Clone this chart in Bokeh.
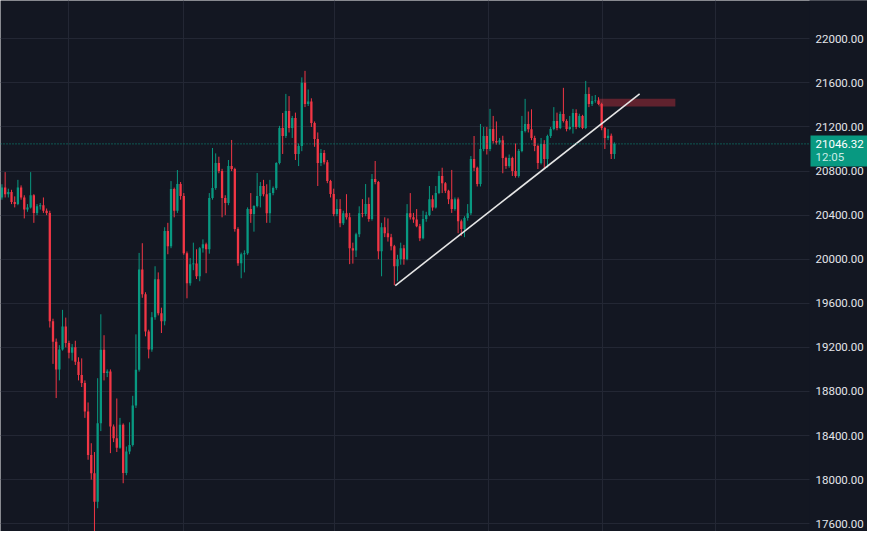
from bokeh.plotting import figure
from bokeh.models import (ColumnDataSource, FixedTicker, PrintfTickFormatter, Range1d)
from bokeh.embed import file_html
from bokeh.resources import INLINE

# ---- data ----
opens = [
    20560, 20650, 20590, 20610, 20520, 20500, 20650, 20560, 20450, 20470,
    20580, 20420, 20480, 20490, 20440, 20420, 19436, 19250, 19000, 19180,
    19390, 19240, 19150, 19200, 19070, 18950, 18876, 18618, 18224, 18058,
    17800, 18512, 19179, 18967, 18980, 18482, 18376, 18290, 18497, 18060,
    18255, 18315, 18673, 18997, 19906, 19682, 19345, 19180, 19473, 19818,
    19509, 19436, 20255, 20118, 20636, 20440, 20682, 20573, 20055, 19782,
    19955, 19960, 19845, 20100, 20136, 20090, 20555, 20645, 20873, 20800,
    20555, 20509, 20845, 20818, 20273, 19964, 20045, 20055, 20455, 20409,
    20482, 20573, 20664, 20590, 20418, 20600, 20645, 20873, 21191, 21118,
    21345, 21191, 21282, 20955, 21027, 21600, 21409, 21430, 21236, 21091,
    20873, 20964, 20880, 20709, 20591, 20409, 20455, 20327, 20418, 20380,
    20100, 20080, 20227, 20418, 20410, 20500, 20364, 20727, 20700, 20073,
    20290, 20236, 20200, 20118, 19936, 20000, 20100, 20000, 20418, 20380,
    20360, 20300, 20191, 20364, 20400, 20545, 20470, 20600, 20755, 20690,
    20620, 20545, 20455, 20545, 20345, 20273, 20373, 20418, 20909, 20830,
    20682, 21000, 21118, 21000, 21182, 21073, 21060, 21080, 20918, 20845,
    20918, 20800, 20755, 20982, 21164, 21227, 21180, 21100, 21027, 20873,
    21045, 20909, 21118, 21182, 21255, 21190, 21318, 21255, 21182, 21200,
    21327, 21200, 21300, 21191, 21500, 21409, 21436, 21440, 21409, 21191,
    21100, 21120, 20955,
]
closes = [
    20650, 20590, 20610, 20520, 20500, 20650, 20560, 20450, 20470, 20580,
    20420, 20480, 20490, 20440, 20420, 19436, 19250, 19000, 19180, 19390,
    19240, 19150, 19200, 19070, 18950, 18876, 18618, 18224, 18058, 17800,
    18512, 19179, 18967, 18980, 18482, 18376, 18290, 18497, 18060, 18255,
    18315, 18673, 18997, 19906, 19682, 19345, 19180, 19473, 19818, 19509,
    19436, 20255, 20118, 20636, 20440, 20682, 20573, 20055, 19782, 19955,
    19960, 19845, 20100, 20136, 20090, 20555, 20645, 20873, 20800, 20555,
    20509, 20845, 20818, 20273, 19964, 20045, 20055, 20455, 20409, 20482,
    20573, 20664, 20590, 20418, 20600, 20645, 20873, 21191, 21118, 21345,
    21191, 21282, 20955, 21027, 21600, 21409, 21430, 21236, 21091, 20873,
    20964, 20880, 20709, 20591, 20409, 20455, 20327, 20418, 20380, 20100,
    20080, 20227, 20418, 20410, 20500, 20364, 20727, 20700, 20073, 20290,
    20236, 20200, 20118, 19936, 20000, 20100, 20000, 20418, 20380, 20360,
    20300, 20191, 20364, 20400, 20545, 20470, 20600, 20755, 20690, 20620,
    20545, 20455, 20545, 20345, 20273, 20373, 20418, 20909, 20830, 20682,
    21000, 21118, 21000, 21182, 21073, 21060, 21080, 20918, 20845, 20918,
    20800, 20755, 20982, 21164, 21227, 21180, 21100, 21027, 20873, 21045,
    20909, 21118, 21182, 21255, 21190, 21318, 21255, 21182, 21200, 21327,
    21200, 21300, 21191, 21500, 21409, 21436, 21440, 21409, 21191, 21100,
    21120, 20955, 21046.32,
]
highs = [
    20680, 20790, 20640, 20630, 20570, 20720, 20670, 20580, 20500, 20790,
    20590, 20500, 20510, 20560, 20460, 20440, 19460, 19280, 19220, 19540,
    19470, 19260, 19230, 19260, 19110, 19100, 18900, 18700, 18330, 18250,
    18920, 19500, 19310, 19000, 19000, 18500, 18736, 18560, 18510, 18300,
    18520, 18760, 19318, 20057, 20145, 19700, 19360, 19520, 19936, 19880,
    19560, 20290, 20330, 20709, 20650, 20809, 20700, 20600, 20070, 20010,
    20150, 20090, 20110, 20180, 20150, 20600, 21009, 20960, 20930, 20820,
    20580, 20900, 21082, 20830, 20290, 20060, 20080, 20470, 20600, 20490,
    20782, 20700, 20720, 20680, 20720, 20660, 20880, 21210, 21327, 21500,
    21480, 21300, 21330, 21050, 21650, 21709, 21540, 21460, 21250, 21150,
    21000, 20990, 20900, 20720, 20640, 20545, 20545, 20440, 20590, 20420,
    20150, 20240, 20480, 20545, 20682, 20560, 20773, 20891, 20710, 20330,
    20380, 20370, 20230, 20130, 20040, 20150, 20130, 20500, 20600, 20420,
    20455, 20320, 20440, 20430, 20664, 20580, 20664, 20800, 20830, 20700,
    20630, 20810, 20560, 20560, 20360, 20390, 20500, 20936, 21118, 20840,
    21227, 21200, 21200, 21364, 21300, 21250, 21100, 21120, 20930, 20950,
    20930, 21050, 21000, 21300, 21455, 21340, 21360, 21120, 21040, 21100,
    21080, 21130, 21200, 21380, 21330, 21340, 21555, 21270, 21300, 21364,
    21360, 21320, 21310, 21618, 21560, 21482, 21490, 21470, 21420, 21200,
    21180, 21140, 21060,
]
lows = [
    20540, 20560, 20560, 20500, 20470, 20490, 20540, 20370, 20430, 20460,
    20330, 20400, 20450, 20420, 20400, 19380, 19050, 18740, 18900, 19170,
    19200, 19100, 19080, 19040, 18900, 18840, 18560, 18180, 18000, 17300,
    17740, 18440, 18900, 18930, 18240, 18340, 18250, 18280, 17967, 18040,
    18230, 18300, 18650, 18980, 19650, 19300, 19100, 19160, 19450, 19490,
    19330, 19400, 20045, 20100, 20380, 20420, 20540, 20040, 19645, 19760,
    19900, 19820, 19800, 20060, 19873, 20050, 20540, 20630, 20780, 20380,
    20400, 20490, 20800, 20250, 19940, 19827, 19880, 20040, 20330, 20250,
    20470, 20470, 20570, 20330, 20330, 20580, 20630, 20860, 20955, 21100,
    21150, 21100, 20900, 20845, 20980, 21380, 21390, 21200, 21020, 20664,
    20845, 20860, 20690, 20560, 20390, 20390, 20290, 20310, 20360, 19955,
    19960, 20020, 20200, 20380, 20390, 20340, 20350, 20680, 20000, 19845,
    20200, 20160, 20080, 19764, 19800, 19950, 19950, 19990, 20360, 20330,
    20290, 20164, 20180, 20340, 20390, 20440, 20460, 20590, 20600, 20600,
    20500, 20420, 20440, 20236, 20210, 20200, 20350, 20400, 20800, 20660,
    20660, 20980, 20950, 20980, 21050, 21040, 21040, 20780, 20820, 20830,
    20755, 20740, 20740, 20970, 21150, 21150, 21080, 20980, 20818, 20860,
    20820, 20830, 21100, 21170, 21170, 21180, 21240, 21160, 21170, 21140,
    21180, 21190, 21180, 21180, 21380, 21390, 21420, 21400, 21170, 21000,
    21080, 20909, 20910,
]
last_price = 21046.32
timer_text = "12:05"
price_ticks = [17600, 18000, 18400, 18800, 19200, 19600, 20000,
               20400, 20800, 21200, 21600, 22000]
time_grid = [20.86, 56.9, 104.3, 152.5, 188.3, 223.7]
trend_x = [123.3, 199.9]
trend_y = [19761, 21500]
zone_left = [187.0]
zone_right = [211.1]
zone_bottom = [21385]
zone_top = [21457]

# ---- style ----
BG = "#131722"
UP = "#089981"
DOWN = "#f23645"
GRID = "#232734"
TXT = "#e3e5ea"

idx = list(range(len(closes)))
colors = [UP if c >= o else DOWN for o, c in zip(opens, closes)]
src = ColumnDataSource(dict(x=idx, o=opens, c=closes, h=highs, l=lows, col=colors))

FW, FH = 867, 531
y_lo, y_hi = 17529.0, 22347.5
x_start, x_end = -0.455, 271.33
px_x = (x_end - x_start) / FW          # data units per pixel (x)
px_y = (y_hi - y_lo) / FH              # data units per pixel (y)
scale_x = x_start + 812 * px_x         # where the price scale begins

p = figure(frame_width=FW, frame_height=FH,
           x_range=Range1d(x_start, x_end), y_range=Range1d(y_lo, y_hi),
           output_backend="svg", toolbar_location=None, y_axis_location="right",
           min_border_left=0, min_border_top=0, min_border_bottom=0, min_border_right=0,
           background_fill_color=BG, border_fill_color=BG, outline_line_color=None)

p.xaxis.visible = False
p.xgrid.ticker = FixedTicker(ticks=time_grid)
p.xgrid.grid_line_color = GRID
p.xgrid.minor_grid_line_color = None
p.ygrid.ticker = FixedTicker(ticks=price_ticks)
p.ygrid.grid_line_color = GRID
p.ygrid.minor_grid_line_color = None

ax = p.yaxis[0]
ax.fixed_location = scale_x
ax.ticker = FixedTicker(ticks=price_ticks)
ax.formatter = PrintfTickFormatter(format="%.2f")
ax.axis_line_color = None
ax.axis_line_width = 0
ax.axis_line_alpha = 0
ax.major_tick_line_color = None
ax.major_tick_line_alpha = 0
ax.minor_tick_line_color = None
ax.minor_tick_line_alpha = 0
ax.major_tick_out = 0
ax.major_tick_in = 0
ax.minor_tick_out = 0
ax.minor_tick_in = 0
ax.major_label_standoff = 3
ax.major_label_text_color = TXT
ax.major_label_text_font = "Roboto"
ax.major_label_text_font_size = "11.5px"

# price-scale background (hides the grid behind the scale)
p.quad(left=[scale_x - 3 * px_x], right=[x_end + 5], bottom=[y_lo - 500], top=[y_hi + 500],
       fill_color=BG, line_color=None)

# zone
p.quad(left=zone_left, right=zone_right, bottom=zone_bottom, top=zone_top,
       fill_color=DOWN, fill_alpha=0.35, line_color=None)

# candles
p.segment(x0="x", y0="h", x1="x", y1="l", source=src, line_color="col", line_width=1)
p.vbar(x="x", top="o", bottom="c", width=0.72, source=src,
       fill_color="col", line_color=None)

# trend line
p.line(trend_x, trend_y, line_color="#e6e6e6", line_width=1.6)

# last price dotted line
p.segment(x0=[x_start], x1=[scale_x - 3 * px_x], y0=[last_price], y1=[last_price],
          line_color=UP, line_dash="1 2", line_width=1)

# last price tag on the price scale
p.quad(left=[scale_x - 2 * px_x], right=[x_end + 5],
       top=[last_price + 8.5 * px_y], bottom=[last_price - 22.5 * px_y],
       fill_color=UP, line_color=None)
p.text(x=[scale_x + 3 * px_x], y=[last_price], text=[f"{last_price:.2f}"],
       text_color="#ffffff", text_font={"value": "Roboto"}, text_font_size="11.5px",
       text_baseline="middle", text_align="left")
p.text(x=[scale_x + 3 * px_x], y=[last_price - 13 * px_y], text=[timer_text],
       text_color="#c9ece5", text_font={"value": "Roboto"}, text_font_size="11.5px",
       text_baseline="middle", text_align="left")

open("out.html", "w").write(file_html(p, INLINE))
